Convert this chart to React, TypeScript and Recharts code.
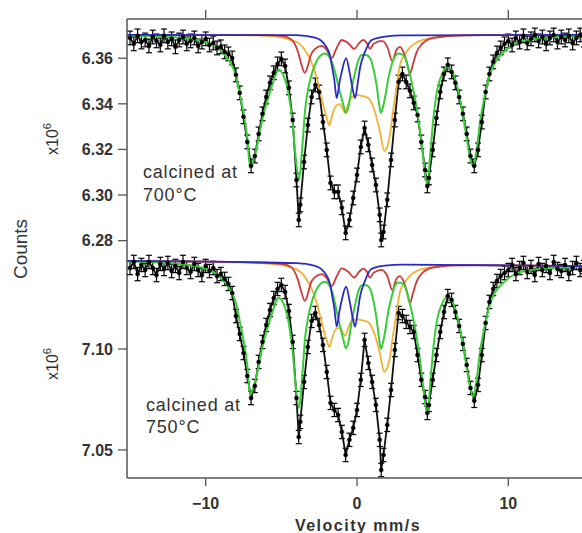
import React from 'react';
import { ComposedChart, Line, XAxis, YAxis, ErrorBar } from 'recharts';

// ---------- data (velocity in mm/s, counts in units of 10^6) ----------
const X_TICKS = [-10, 0, 10];
const TOP_TICKS = [6.28, 6.3, 6.32, 6.34, 6.36];
const BOTTOM_TICKS = [7.05, 7.1];

const V_DATA = [-15, -14.75, -14.5, -14.25, -14, -13.75, -13.5, -13.25, -13, -12.75, -12.5, -12.25, -12, -11.75, -11.5, -11.25, -11, -10.75, -10.5, -10.25, -10, -9.75, -9.5, -9.25, -9, -8.75, -8.5, -8.25, -8, -7.75, -7.5, -7.25, -7, -6.75, -6.5, -6.25, -6, -5.75, -5.5, -5.25, -5, -4.75, -4.5, -4.25, -4,
  -3.85,
  -3.75, -3.5, -3.25, -3, -2.75, -2.5, -2.25, -2, -1.75, -1.5, -1.25, -1, -0.75, -0.5, -0.25, 0, 0.25, 0.5, 0.75, 1, 1.25, 1.5,
  1.6,
  1.75, 2, 2.25, 2.5, 2.75, 3, 3.25, 3.5, 3.75, 4, 4.25, 4.5,
  4.65,
  4.75, 5, 5.25, 5.5, 5.75, 6, 6.25, 6.5, 6.75, 7, 7.25, 7.5, 7.75, 8, 8.25, 8.5, 8.75, 9, 9.25, 9.5, 9.75, 10, 10.25, 10.5, 10.75, 11, 11.25, 11.5, 11.75, 12, 12.25, 12.5, 12.75, 13, 13.25, 13.5, 13.75, 14, 14.25, 14.5, 14.75, 15];

const TOP_COUNTS = [6.3689, 6.3663, 6.3698, 6.3671, 6.368, 6.3654, 6.3693, 6.3676, 6.3658, 6.3698, 6.3671, 6.3685, 6.365, 6.368, 6.3693, 6.3663, 6.3676, 6.3689, 6.3654, 6.3671, 6.3685, 6.3658, 6.3667, 6.3645, 6.365, 6.3628, 6.3619, 6.3601, 6.3527, 6.3448, 6.3343, 6.3233, 6.3128, 6.3171, 6.3268, 6.3356, 6.343, 6.3492, 6.3536, 6.3575, 6.3597, 6.3566, 6.347, 6.3329, 6.3066,
  6.2891,
  6.2957, 6.3145, 6.3307, 6.343, 6.3483, 6.3452, 6.332, 6.3198, 6.3053, 6.3014, 6.3014, 6.2944, 6.2834, 6.2891, 6.2987, 6.3088, 6.3211, 6.3294, 6.322, 6.3132, 6.3044, 6.2913,
  6.2803,
  6.2838, 6.2979, 6.3154, 6.3329, 6.3496, 6.3531, 6.3496, 6.3457, 6.3404, 6.3351, 6.3233, 6.311,
  6.304,
  6.3075, 6.3198, 6.3338, 6.3452, 6.3531, 6.3571, 6.354, 6.3492, 6.343, 6.3356, 6.3268, 6.3171, 6.3128, 6.3198, 6.332, 6.3452, 6.3531, 6.3584, 6.3623, 6.3645, 6.3663, 6.3676, 6.3658, 6.3689, 6.3671, 6.3698, 6.3667, 6.3685, 6.3702, 6.3676, 6.3693, 6.3663, 6.3689, 6.3702, 6.3671, 6.3693, 6.368, 6.3698, 6.3667, 6.3689, 6.3702, 6.368];

const BOTTOM_COUNTS = [7.1401, 7.1431, 7.1371, 7.1416, 7.1391, 7.1431, 7.1401, 7.1366, 7.1421, 7.1396, 7.1426, 7.1386, 7.1411, 7.1376, 7.1431, 7.1401, 7.1381, 7.1421, 7.1391, 7.1366, 7.1411, 7.1386, 7.1401, 7.1361, 7.1371, 7.1347, 7.1322, 7.1277, 7.1163, 7.1074, 7.098, 7.0866, 7.0757, 7.0817, 7.0936, 7.1035, 7.1119, 7.1193, 7.1252, 7.1297, 7.1317, 7.1282, 7.1188, 7.1035, 7.0757,
  7.0564,
  7.0639, 7.0837, 7.101, 7.1139, 7.1178, 7.1119, 7.102, 7.0886, 7.0733, 7.0698, 7.0673, 7.0589, 7.0475, 7.055, 7.0609, 7.0698, 7.0847, 7.1045, 7.0931, 7.0837, 7.0723, 7.055,
  7.0401,
  7.0475, 7.0624, 7.0797, 7.0995, 7.1178, 7.1163, 7.1134, 7.1109, 7.1084, 7.097, 7.0847, 7.0762,
  7.0683,
  7.0723, 7.0847, 7.097, 7.1084, 7.1183, 7.1262, 7.1243, 7.1183, 7.1114, 7.1025, 7.0921, 7.0807, 7.0743, 7.0822, 7.097, 7.1129, 7.1233, 7.1297, 7.1337, 7.1361, 7.1376, 7.1391, 7.1416, 7.1371, 7.1401, 7.1426, 7.1381, 7.1406, 7.1366, 7.1421, 7.1391, 7.1411, 7.1376, 7.1431, 7.1396, 7.1386, 7.1416, 7.1371, 7.1401, 7.1426, 7.1391, 7.1406];

const TOP_ERR = 0.003;
const BOTTOM_ERR = 0.0033;

const GREEN_V = [-15.2, -13, -11.5, -10.5, -10, -9.5, -9, -8.5, -8, -7.75, -7.5, -7.25, -7.06, -6.85, -6.62, -6.4, -6.18, -5.95, -5.74, -5.5, -5.3, -5.15, -4.95, -4.75, -4.5, -4.25, -4.05, -3.83, -3.62, -3.43, -3.2, -2.99, -2.75, -2.55, -2.11, -1.67, -1.45, -1.23, -0.9, -0.73, -0.55, -0.35, -0.13, 0.1, 0.31, 0.6, 0.86, 1.1, 1.3, 1.45, 1.58, 1.72, 1.85, 2.05, 2.29, 2.5, 2.73, 3.06, 3.3, 3.5, 3.75, 3.94, 4.2, 4.38, 4.65, 4.85, 5.05, 5.3, 5.6, 6, 6.4, 6.75, 7, 7.25, 7.45, 7.68, 7.9, 8.15, 8.35, 8.56, 8.8, 9.1, 9.64, 10.2, 10.76, 12, 12.94, 14, 15.2];
const TOP_GREEN = [6.37, 6.3696, 6.3689, 6.368, 6.3671, 6.3658, 6.3632, 6.3593, 6.3522, 6.3443, 6.336, 6.325, 6.3119, 6.3154, 6.3211, 6.3286, 6.3351, 6.3408, 6.3452, 6.3505, 6.354, 6.3549, 6.3536, 6.3505, 6.3435, 6.3312, 6.3163, 6.3066, 6.3207, 6.3373, 6.3474, 6.3531, 6.3575, 6.3601, 6.3621, 6.3584, 6.354, 6.3479, 6.3395, 6.336, 6.3391, 6.347, 6.3536, 6.3593, 6.3614, 6.3614, 6.3601, 6.3549, 6.3479, 6.3404, 6.336, 6.3386, 6.3426, 6.3505, 6.3571, 6.3606, 6.3621, 6.3614, 6.3579, 6.3527, 6.3452, 6.3382, 6.3264, 6.3163, 6.3044, 6.3189, 6.3338, 6.3461, 6.3527, 6.3562, 6.3527, 6.3439, 6.3351, 6.325, 6.3172, 6.3123, 6.3198, 6.3329, 6.3404, 6.3474, 6.3531, 6.3579, 6.3623, 6.3654, 6.3671, 6.3687, 6.3692, 6.3696, 6.3699];
const BOTTOM_GREEN = [7.1433, 7.1427, 7.1418, 7.1407, 7.1397, 7.1382, 7.1351, 7.1306, 7.1227, 7.1138, 7.1043, 7.0919, 7.0771, 7.081, 7.0874, 7.0958, 7.1032, 7.1096, 7.1146, 7.1205, 7.1244, 7.1254, 7.1239, 7.1204, 7.1125, 7.0986, 7.0818, 7.0708, 7.0867, 7.1055, 7.1168, 7.1232, 7.1282, 7.1311, 7.1333, 7.1291, 7.1225, 7.1149, 7.1046, 7.1003, 7.104, 7.1137, 7.1218, 7.1288, 7.1315, 7.1315, 7.1298, 7.1233, 7.1147, 7.1055, 7.1001, 7.1033, 7.1082, 7.1178, 7.1259, 7.1312, 7.1329, 7.1321, 7.1282, 7.1222, 7.1138, 7.1058, 7.0925, 7.081, 7.0677, 7.084, 7.1008, 7.1146, 7.122, 7.126, 7.122, 7.112, 7.1021, 7.0907, 7.0818, 7.0763, 7.0847, 7.0995, 7.1079, 7.1158, 7.1223, 7.1277, 7.1326, 7.136, 7.1379, 7.1396, 7.1401, 7.1404, 7.1406];

const RED_V = [-15.2, -6, -5, -4.5, -4.15, -3.9, -3.7, -3.45, -3.25, -3.05, -2.77, -2.33, -2, -1.67, -1.4, -1.01, -0.6, -0.18, 0.15, 0.42, 0.65, 0.86, 1.1, 1.63, 2, 2.33, 2.6, 2.84, 3.1, 3.3, 3.5, 3.7, 3.95, 4.3, 4.8, 5.5, 6.5, 8, 15.2];
const TOP_RED = [6.3702, 6.3701, 6.3698, 6.3689, 6.3667, 6.3628, 6.3579, 6.3536, 6.3566, 6.3614, 6.3641, 6.3654, 6.3636, 6.3601, 6.3636, 6.368, 6.3667, 6.3641, 6.3667, 6.368, 6.3667, 6.3641, 6.3663, 6.3676, 6.365, 6.3588, 6.3636, 6.365, 6.3623, 6.3579, 6.3531, 6.3575, 6.3628, 6.3663, 6.3685, 6.3693, 6.3699, 6.3701, 6.3702];
const BOTTOM_RED = [7.1436, 7.1427, 7.1422, 7.1412, 7.1387, 7.1342, 7.1288, 7.1238, 7.1272, 7.1327, 7.1356, 7.1371, 7.135, 7.1311, 7.135, 7.1399, 7.1384, 7.1354, 7.1383, 7.1398, 7.1383, 7.1353, 7.1378, 7.1392, 7.1362, 7.1292, 7.1347, 7.1361, 7.1331, 7.1282, 7.1227, 7.1276, 7.1336, 7.1375, 7.1399, 7.1408, 7.1414, 7.1415, 7.141];

const BLUE_V = [-15.2, -4, -2.77, -2.11, -1.8, -1.67, -1.5, -1.34, -1.15, -1.01, -0.72, -0.46, -0.3, -0.13, 0.05, 0.2, 0.53, 0.97, 1.85, 3, 15.2];
const TOP_BLUE = [6.3702, 6.3701, 6.369, 6.3658, 6.3614, 6.3571, 6.3505, 6.3425, 6.3496, 6.354, 6.36, 6.3527, 6.347, 6.3425, 6.3492, 6.3557, 6.3628, 6.368, 6.3695, 6.37, 6.3702];
const BOTTOM_BLUE = [7.1436, 7.1425, 7.1412, 7.1375, 7.1326, 7.1276, 7.1202, 7.1111, 7.1191, 7.1241, 7.1308, 7.1225, 7.1161, 7.111, 7.1185, 7.1259, 7.1338, 7.1397, 7.1413, 7.1418, 7.141];

const ORANGE_V = [-15.2, -8, -6, -5, -4.5, -3.98, -3.65, -3.32, -2.99, -2.7, -2.44, -2.2, -2, -1.83, -1.65, -1.45, -1.12, -0.95, -0.79, -0.6, -0.35, 0, 0.31, 0.6, 0.86, 1.19, 1.52, 1.8, 2, 2.18, 2.35, 2.51, 2.68, 2.84, 3.05, 3.28, 3.6, 4.05, 4.82, 6, 8, 15.2];
const TOP_ORANGE = [6.3702, 6.3701, 6.3698, 6.3691, 6.3682, 6.3671, 6.3654, 6.3623, 6.3579, 6.3522, 6.3452, 6.3386, 6.3338, 6.3307, 6.3347, 6.3386, 6.34, 6.3378, 6.336, 6.3395, 6.343, 6.3439, 6.3435, 6.343, 6.3417, 6.3364, 6.3277, 6.3193, 6.3211, 6.3264, 6.3351, 6.3426, 6.3505, 6.3571, 6.3606, 6.3629, 6.3654, 6.3673, 6.3688, 6.3698, 6.3701, 6.3702];
const BOTTOM_ORANGE = [7.1436, 7.1429, 7.1423, 7.1416, 7.1406, 7.1394, 7.1375, 7.1343, 7.1297, 7.1237, 7.1163, 7.1093, 7.1043, 7.101, 7.1052, 7.1093, 7.1106, 7.1083, 7.1065, 7.1101, 7.1138, 7.1147, 7.1142, 7.1137, 7.1123, 7.1068, 7.0975, 7.0887, 7.0906, 7.0961, 7.1053, 7.1131, 7.1214, 7.1283, 7.1319, 7.1343, 7.1369, 7.1389, 7.1404, 7.1413, 7.1415, 7.141];

// ---------- helpers ----------
const pts = (xs: number[], ys: number[]) => xs.map((v, i) => ({ v, y: ys[i] }));
const measured = (xs: number[], ys: number[], err: number) => xs.map((v, i) => ({ v, y: ys[i], err }));

const W = 600;
const H = 533;
const X_DOMAIN: [number, number] = [-15.2, 15.2];
const TOP_DOMAIN: [number, number] = [6.1759, 6.3772];
const BOTTOM_DOMAIN: [number, number] = [7.0361, 7.2634];
const FONT = '"Liberation Sans", Arial, Helvetica, sans-serif';
const AXIS_COLOR = '#555';
const GREEN = '#38cc38';
const RED = '#cc3b3b';
const BLUE = '#2b2bc4';
const ORANGE = '#f0b236';

const tickStyle = { fontSize: 16, fontWeight: 700, fill: '#333', fontFamily: FONT };

function renderSeries(counts: number[], err: number, green: number[], red: number[], blue: number[], orange: number[]) {
  return [
    <Line key="data" data={measured(V_DATA, counts, err)} dataKey="y" type="linear" stroke="#111" strokeWidth={1.8}
      dot={{ r: 2, fill: '#000', stroke: '#000', strokeWidth: 0.6 }} isAnimationActive={false}>
      <ErrorBar dataKey="err" direction="y" width={3} stroke="#000" strokeWidth={1.2} />
    </Line>,
    <Line key="orange" data={pts(ORANGE_V, orange)} dataKey="y" type="monotone" stroke={ORANGE} strokeWidth={1.8} dot={false} isAnimationActive={false} />,
    <Line key="red" data={pts(RED_V, red)} dataKey="y" type="monotone" stroke={RED} strokeWidth={1.8} dot={false} isAnimationActive={false} />,
    <Line key="green" data={pts(GREEN_V, green)} dataKey="y" type="monotone" stroke={GREEN} strokeWidth={2} dot={false} isAnimationActive={false} />,
    <Line key="blue" data={pts(BLUE_V, blue)} dataKey="y" type="monotone" stroke={BLUE} strokeWidth={1.8} dot={false} isAnimationActive={false} />,
  ];
}

export default function App() {
  const fmt2 = (v: number) => v.toFixed(2);
  const fmtX = (v: number) => (v < 0 ? '\u2212' + Math.abs(v) : String(v));
  return (
    <div style={{ position: 'absolute', left: 0, top: 0, width: 582, height: 533, overflow: 'hidden', background: '#fff' }}>
      <div style={{ position: 'absolute', left: 0, top: 0 }}>
        <ComposedChart width={W} height={H} margin={{ top: 0, right: 13, bottom: 55, left: 0 }}>
          <XAxis type="number" dataKey="v" orientation="top" domain={X_DOMAIN} allowDataOverflow ticks={X_TICKS}
            height={19} tickSize={9} tickFormatter={() => ''}
            axisLine={{ stroke: AXIS_COLOR, strokeWidth: 1.5 }} tickLine={{ stroke: AXIS_COLOR, strokeWidth: 1.3 }} />
          <YAxis type="number" domain={TOP_DOMAIN} allowDataOverflow ticks={TOP_TICKS} width={127} tickSize={9} tickMargin={5}
            tickFormatter={fmt2} tick={tickStyle}
            axisLine={{ stroke: AXIS_COLOR, strokeWidth: 1.5 }} tickLine={{ stroke: AXIS_COLOR, strokeWidth: 1.3 }} />
          {renderSeries(TOP_COUNTS, TOP_ERR, TOP_GREEN, TOP_RED, TOP_BLUE, TOP_ORANGE)}
        </ComposedChart>
      </div>
      <div style={{ position: 'absolute', left: 0, top: 0 }}>
        <ComposedChart width={W} height={H} margin={{ top: 19, right: 13, bottom: 0, left: 0 }}>
          <XAxis type="number" dataKey="v" orientation="bottom" domain={X_DOMAIN} allowDataOverflow ticks={X_TICKS}
            height={55} tickSize={8} tickMargin={12} tickFormatter={fmtX} tick={tickStyle}
            axisLine={{ stroke: AXIS_COLOR, strokeWidth: 1.5 }} tickLine={{ stroke: AXIS_COLOR, strokeWidth: 1.3 }} />
          <YAxis type="number" domain={BOTTOM_DOMAIN} allowDataOverflow ticks={BOTTOM_TICKS} width={127} tickSize={9} tickMargin={5}
            tickFormatter={fmt2} tick={tickStyle}
            axisLine={false} tickLine={{ stroke: AXIS_COLOR, strokeWidth: 1.3 }} />
          {renderSeries(BOTTOM_COUNTS, BOTTOM_ERR, BOTTOM_GREEN, BOTTOM_RED, BOTTOM_BLUE, BOTTOM_ORANGE)}
        </ComposedChart>
      </div>
      <svg width={582} height={533} style={{ position: 'absolute', left: 0, top: 0, pointerEvents: 'none' }}>
        <text transform="translate(27,249) rotate(-90)" textAnchor="middle" fontSize={19} fontFamily={FONT} fill="#333">Counts</text>
        <text transform="translate(58,155) rotate(-90)" fontSize={16} fontFamily={FONT} fill="#333">
          x10<tspan dy={-7} fontSize={11}>6</tspan>
        </text>
        <text transform="translate(58,380) rotate(-90)" fontSize={16} fontFamily={FONT} fill="#333">
          x10<tspan dy={-7} fontSize={11}>6</tspan>
        </text>
        <text x={143} y={178} fontSize={18} letterSpacing={0.8} fontFamily={FONT} fill="#333">calcined at</text>
        <text x={143} y={201} fontSize={18} letterSpacing={0.8} fontFamily={FONT} fill="#333">700°C</text>
        <text x={146} y={411} fontSize={18} letterSpacing={0.8} fontFamily={FONT} fill="#333">calcined at</text>
        <text x={146} y={433} fontSize={18} letterSpacing={0.8} fontFamily={FONT} fill="#333">750°C</text>
        <text x={358} y={531} textAnchor="middle" fontSize={16} fontWeight={700} letterSpacing={1.5} fontFamily={FONT} fill="#333">Velocity mm/s</text>
      </svg>
    </div>
  );
}
